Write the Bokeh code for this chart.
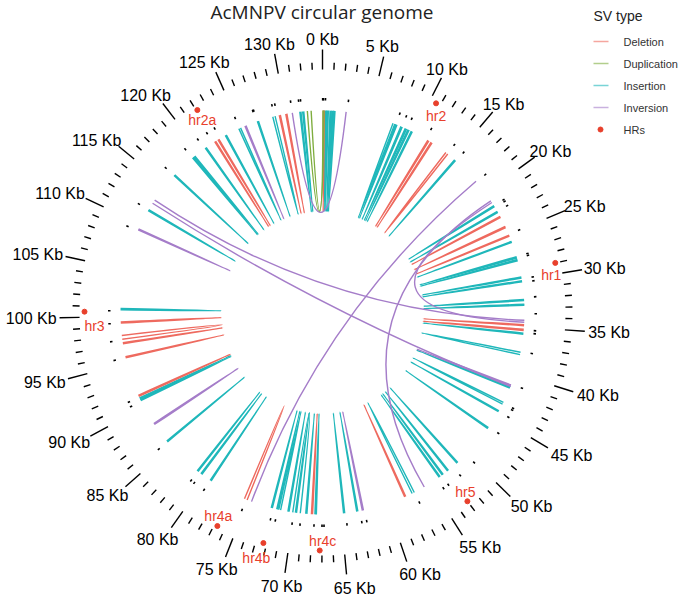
import numpy as np
from bokeh.plotting import figure
from bokeh.core.properties import value
from bokeh.embed import file_html
from bokeh.resources import INLINE

# ---------------- data ----------------
GENOME_KB = 133.9
title_text = "AcMNPV circular genome"

tick_kb = list(range(0, 134, 1))
label_kb = list(range(0, 131, 5))
label_text = [f"{k} Kb" for k in label_kb]

hr_names = ["hr2", "hr1", "hr5", "hr4c", "hr4b", "hr4a", "hr3", "hr2a"]
hr_kb = [10.6, 29.0, 53.0, 67.2, 72.3, 76.7, 100.5, 122.1]

deletion_start = [129.3, 130.0, 0.08, 11.7, 12.1, 14.0, 22.9, 24.1, 25.1, 34.75, 35.25,
                  57.9, 68.0, 75.1, 91.3, 95.6, 97.1, 97.6, 99.3, 121.9, 122.3]
deletion_end = [129.42, 130.12, 0.2, 11.82, 12.22, 14.25, 23.02, 24.22, 25.22, 34.87, 35.37,
                58.02, 68.12, 75.4, 91.42, 95.72, 97.22, 98.0, 99.42, 122.02, 122.42]

duplication_start = [132.3, 132.7]
duplication_end = [0.15, 0.05]

insertion_start = [111.7, 116.3, 119.0, 119.2, 120.7, 123.2, 124.8, 126.9, 128.6, 131.5, 131.8,
                   0.3, 0.5, 0.8, 1.0, 1.2, 7.6, 7.9, 8.5, 9.0, 9.3, 9.7, 15.2, 21.6, 22.3,
                   25.8, 27.5, 27.8, 29.7, 30.1, 32.1, 32.6, 35.65, 37.7, 41.5, 43.3, 44.3,
                   46.4, 51.3, 52.6, 53.3, 53.7, 56.9, 63.2, 64.6, 67.6, 68.6, 69.3, 69.7,
                   70.5, 71.4, 71.7, 72.3, 79.4, 80.6, 81.1, 85.6, 90.8, 91.0, 100.7]
insertion_end = [111.82, 116.42, 119.12, 119.32, 120.82, 123.32, 125.0, 127.02, 128.85, 131.62, 131.92,
                 0.42, 0.62, 0.92, 1.12, 1.32, 7.8, 8.05, 8.65, 9.15, 9.45, 9.82, 15.32, 21.72, 22.42,
                 25.92, 27.65, 27.95, 29.82, 30.22, 32.22, 32.72, 35.77, 37.95, 41.65, 43.5, 44.42,
                 46.52, 51.42, 52.72, 53.42, 53.82, 57.15, 63.32, 64.72, 67.75, 68.72, 70.1, 69.82,
                 70.62, 71.6, 71.82, 72.42, 79.52, 80.72, 81.22, 85.72, 90.92, 91.12, 100.85]

inversion_start = [130.7, 18.4, 21.0, 21.2, 113.0, 112.6, 41.3, 109.4, 87.9, 62.6, 125.5]
inversion_end = [2.5, 74.6, 55.7, 34.5, 34.3, 41.45, 41.42, 109.52, 88.02, 62.72, 125.62]

marker_kb = [126.8, 128.8, 129.1, 130.7, 131.5, 131.7, 0.02, 0.1, 0.3, 2.6, 7.9, 8.6, 9.2,
             11.4, 14.2, 15.4, 18.5, 21.6, 21.8, 22.3, 25.0, 27.5, 27.7, 29.9, 30.3, 31.9,
             33.6, 35.3, 35.6, 37.6, 41.2, 43.4, 43.6, 44.4, 46.3, 50.1, 52.0, 53.5, 54.1,
             56.9, 62.5, 63.0, 64.5, 66.8, 67.0, 67.8, 69.2, 70.0, 71.7, 72.2, 75.2, 79.5,
             80.7, 81.1, 85.6, 90.7, 91.2, 95.6, 97.5, 99.3, 100.6, 109.3, 111.8, 116.3,
             119.0, 120.6, 121.7, 122.6, 124.9, 126.9]

sv_types = ["Deletion", "Duplication", "Insertion", "Inversion"]

# ---------------- style / geometry ----------------
COLORS = {"Deletion": "#EE6A5F", "Duplication": "#7FAD3F",
          "Insertion": "#1FB7BA", "Inversion": "#A57DC9"}
HR_COLOR = "#E8402C"
R_LINK = 202
R_MARK = 212
R_TICK = 243
MAJOR_LEN = 20
MINOR_LEN = 7
R_LABEL = 266
R_HR = 238
FONT = "Liberation Sans"
hr_nudge = [(0, 13), (-4, 12), (-2, -9), (3, -9), (-7, 15), (1, -10), (10, 14), (5, 10)]

W, H = 680, 598
CX, CY = 322, 312  # screen position of circle centre (1 data unit = 1 px)


def ang(kb):
    return np.asarray(kb, dtype=float) / GENOME_KB * 2 * np.pi


def polar(kb, r):
    a = ang(kb)
    return r * np.sin(a), r * np.cos(a)


def scr(x, y):
    """screen px (from top-left of the plot) -> data units"""
    return np.asarray(x, float) - CX, CY - np.asarray(y, float)


p = figure(width=W, height=H, x_range=(-CX, W - CX), y_range=(CY - H, CY),
           output_backend="svg", toolbar_location=None, min_border=0,
           x_axis_location=None, y_axis_location=None)
p.grid.visible = False
p.outline_line_color = None
p.background_fill_color = "white"

# ticks
tk = np.array(tick_kb, dtype=float)
is_major = (tk % 5 == 0)
lens = np.where(is_major, MAJOR_LEN, MINOR_LEN)
x0, y0 = polar(tk, R_TICK)
x1, y1 = polar(tk, R_TICK + lens)
p.segment(x0, y0, x1, y1, line_color="black", line_width=1.4)

# tick labels
cw = {"0": .556, "1": .556, "2": .556, "3": .556, "4": .556, "5": .556, "6": .556,
      "7": .556, "8": .556, "9": .556, " ": .278, "K": .667, "b": .556}
fs = 16
lx, ly = [], []
for k, t in zip(label_kb, label_text):
    a = ang(k)
    w = sum(cw[c] for c in t) * fs
    c, s_ = np.cos(a), np.sin(a)
    hv = 7 if c > 0 else 11
    xx = (R_LABEL + 0.5 * w) * s_
    if s_ > 0.05:
        xx -= 6 * c
    lx.append(xx)
    ly.append((R_LABEL + hv) * c)
p.text(lx, ly, text=label_text, text_align="center", text_baseline="middle",
       text_font=value(FONT), text_font_size=f"{fs}px", text_color="black")

# small marker track
mx0, my0 = polar(marker_kb, R_MARK)
mx1, my1 = polar(marker_kb, R_MARK + 2.5)
p.segment(mx0, my0, mx1, my1, line_color="black", line_width=1.6)

# SV links (quadratic curves through the centre)
sv_data = {
    "Deletion": (deletion_start, deletion_end),
    "Duplication": (duplication_start, duplication_end),
    "Insertion": (insertion_start, insertion_end),
    "Inversion": (inversion_start, inversion_end),
}
for t in ["Insertion", "Deletion", "Duplication", "Inversion"]:
    s, e = sv_data[t]
    sx, sy = polar(s, R_LINK)
    ex, ey = polar(e, R_LINK)
    z = np.zeros(len(s))
    p.quadratic(x0=sx, y0=sy, x1=ex, y1=ey, cx=z, cy=z,
                line_color=COLORS[t], line_width=1.4)

# HRs
hx, hy = polar(hr_kb, R_HR)
p.scatter(hx, hy, size=5, color=HR_COLOR)
hlx = [x + d[0] for x, d in zip(hx, hr_nudge)]
hly = [y - d[1] for y, d in zip(hy, hr_nudge)]
p.text(hlx, hly, text=hr_names, text_align="center", text_baseline="middle",
       text_font=value(FONT), text_font_size="14px", text_color=HR_COLOR)

# title
tx, ty = scr([321.5], [11])
p.text(tx, ty, text=[title_text], text_align="center", text_baseline="middle",
       text_font=value("Open Sans"), text_font_size="19px", text_color="#222222")

# legend (manual, in screen px)
LEG_X, LEG_Y = 593, 15
gx, gy = scr([LEG_X], [LEG_Y])
p.text(gx, gy, text=["SV  type"], text_align="left", text_baseline="middle",
       text_font=value(FONT), text_font_size="14px", text_color="#222222")
rows_px = [LEG_Y + 26 + 22 * i for i in range(5)]
sx0, ry = scr([LEG_X] * 5, rows_px)
sx1, _ = scr([LEG_X + 15] * 5, rows_px)
p.segment(sx0[:4], ry[:4], sx1[:4], ry[:4],
          line_color=[COLORS[t] for t in sv_types], line_width=1.5, line_alpha=0.6)
dx_, _ = scr([LEG_X + 7], [0])
p.scatter(dx_, [ry[4]], size=5, color=HR_COLOR)
tx_, _ = scr([LEG_X + 30] * 5, rows_px)
p.text(tx_, ry, text=sv_types + ["HRs"], text_align="left",
       text_baseline="middle", text_font=value(FONT), text_font_size="11px",
       text_color="#333333")

open("out.html", "w").write(file_html(p, INLINE))
